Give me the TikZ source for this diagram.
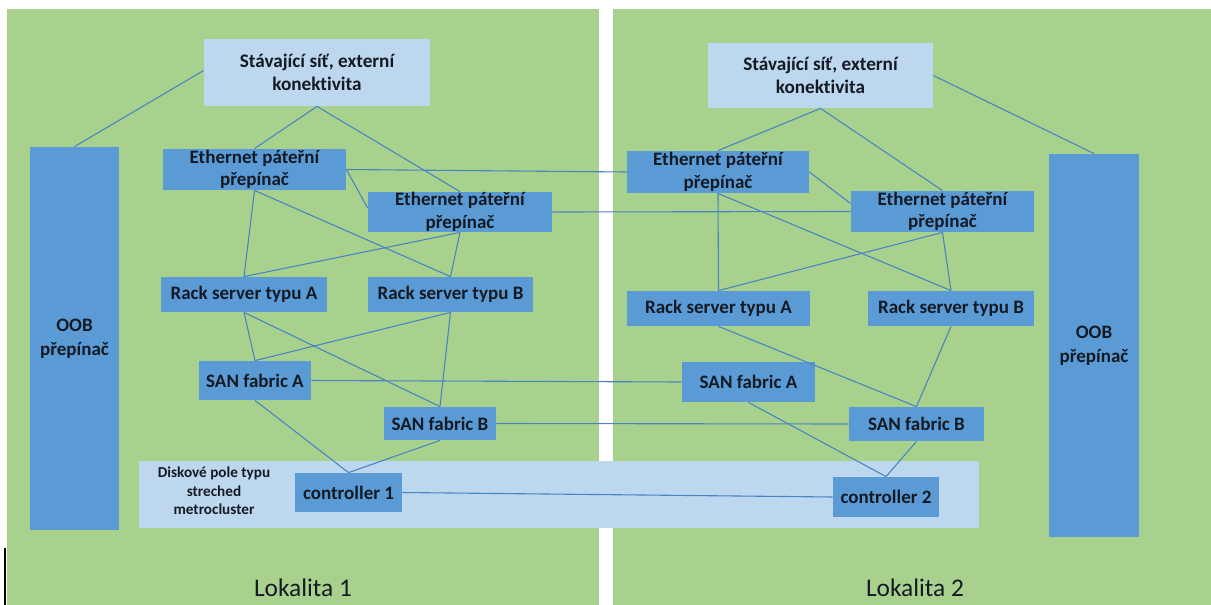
\documentclass[tikz,border=0pt]{standalone}
\usepackage{fontspec}
\setmainfont{Carlito}[Ligatures=NoCommon]
\definecolor{panelgreen}{HTML}{A9D18E}
\definecolor{boxblue}{HTML}{5B9BD5}
\definecolor{boxlight}{HTML}{BDD7EE}
\definecolor{linkblue}{HTML}{4A85C0}
\definecolor{txt}{HTML}{141A24}
\begin{document}
\begin{tikzpicture}[x=0.5pt,y=-0.5pt,
  darkbox/.style={fill=boxblue, draw=none, inner sep=0pt, align=center, text=txt,
    font=\fontsize{9.5}{11.2}\selectfont\bfseries},
  lightbox/.style={fill=boxlight, draw=none, inner sep=0pt, align=center, text=txt,
    font=\fontsize{9.6}{11.2}\selectfont\bfseries},
  smalltext/.style={inner sep=0pt, align=center, text=txt, font=\fontsize{7.6}{9.2}\selectfont\bfseries},
  sitetext/.style={inner sep=0pt, text=txt, font=\fontsize{12.7}{14}\selectfont},
  link/.style={draw=linkblue, line width=0.55pt},
]
\useasboundingbox (0,0) rectangle (1211,605);
\fill[white] (0,0) rectangle (1211,605);

% two sites
\fill[panelgreen] (7,9) rectangle (599,605);
\fill[panelgreen] (613,9) rectangle (1211,605);
\draw[black, line width=1pt] (5,548) -- (5,605);

% stretched disk array spanning both sites
\node[lightbox, minimum width=420pt, minimum height=33.5pt] (band) at (559,494.5) {};
\node[smalltext] (diskLbl) at (214,491) {Diskové pole typu\\streched\\metrocluster};

% ---- site 1 ----
\node[lightbox, minimum width=113pt, minimum height=33.5pt] (topL) at (317,72.5) {Stávající síť, externí\\konektivita};
\node[darkbox, minimum width=44.5pt, minimum height=191.5pt] (oobL) at (74.5,338.5) {OOB\\[1pt]přepínač};
\node[darkbox, minimum width=91.5pt, minimum height=20.5pt] (eth1L) at (254.5,169.5) {Ethernet páteřní\\přepínač};
\node[darkbox, minimum width=92pt, minimum height=20pt] (eth2L) at (460,212) {Ethernet páteřní\\přepínač};
\node[darkbox, minimum width=83pt, minimum height=17.5pt] (rackAL) at (244,294.5) {Rack server typu A};
\node[darkbox, minimum width=82.5pt, minimum height=17.5pt] (rackBL) at (450.5,294.5) {Rack server typu B};
\node[darkbox, minimum width=56pt, minimum height=19.5pt] (sanAL) at (255,380.5) {SAN fabric A};
\node[darkbox, minimum width=56pt, minimum height=16.5pt] (sanBL) at (440,423.5) {SAN fabric B};
\node[darkbox, minimum width=53.5pt, minimum height=19.5pt] (ctl1) at (348.5,492.5) {controller 1};
\node[sitetext] (site1) at (303,588) {Lokalita 1};

% ---- site 2 ----
\node[lightbox, minimum width=112.5pt, minimum height=32.5pt] (topR) at (820.5,75.5) {Stávající síť, externí\\konektivita};
\node[darkbox, minimum width=45pt, minimum height=191.5pt] (oobR) at (1094,345.5) {OOB\\[1pt]přepínač};
\node[darkbox, minimum width=91pt, minimum height=21pt] (eth1R) at (718,172) {Ethernet páteřní\\přepínač};
\node[darkbox, minimum width=91.5pt, minimum height=20.5pt] (eth2R) at (942.5,211.5) {Ethernet páteřní\\přepínač};
\node[darkbox, minimum width=91.5pt, minimum height=17.5pt] (rackAR) at (718.5,308.5) {Rack server typu A};
\node[darkbox, minimum width=83pt, minimum height=17.5pt] (rackBR) at (951,308.5) {Rack server typu B};
\node[darkbox, minimum width=66.5pt, minimum height=20pt] (sanAR) at (748.5,382) {SAN fabric A};
\node[darkbox, minimum width=67.5pt, minimum height=17pt] (sanBR) at (916.5,424) {SAN fabric B};
\node[darkbox, minimum width=53pt, minimum height=20pt] (ctl2) at (886,497) {controller 2};
\node[sitetext] (site2) at (915,588) {Lokalita 2};

% ---- links, site 1 ----
\draw[link] ([yshift=1pt]topL.west) -- (oobL.north);
\draw[link] (topL.south) -- (eth1L.north);
\draw[link] (topL.south) -- (eth2L.north);
\draw[link] (eth1L.east) -- ([yshift=2pt]eth2L.west);
\draw[link] (eth1L.south) -- (rackAL.north);
\draw[link] (eth1L.south) -- (rackBL.north);
\draw[link] (eth2L.south) -- (rackAL.north);
\draw[link] (eth2L.south) -- (rackBL.north);
\draw[link] (rackAL.south) -- (sanAL.north);
\draw[link] (rackAL.south) -- (sanBL.north);
\draw[link] (rackBL.south) -- (sanAL.north);
\draw[link] (rackBL.south) -- (sanBL.north);
\draw[link] (sanAL.south) -- (ctl1.north);
\draw[link] (sanBL.south) -- (ctl1.north);

% ---- links between the sites ----
\draw[link] (eth1L.east) -- (eth1R.west);
\draw[link] (eth2L.east) -- (eth2R.west);
\draw[link] (sanAL.east) -- (sanAR.west);
\draw[link] (sanBL.east) -- (sanBR.west);
\draw[link] (ctl1.east) -- (ctl2.west);

% ---- links, site 2 ----
\draw[link] (topR.east) -- (oobR.north);
\draw[link] (topR.south) -- (eth1R.north);
\draw[link] (topR.south) -- (eth2R.north);
\draw[link] (eth1R.east) -- ([yshift=4pt]eth2R.west);
\draw[link] (eth1R.south) -- (rackAR.north);
\draw[link] (eth1R.south) -- (rackBR.north);
\draw[link] (eth2R.south) -- (rackAR.north);
\draw[link] (eth2R.south) -- (rackBR.north);
\draw[link] (rackAR.south) -- (sanBR.north);
\draw[link] (rackBR.south) -- (sanBR.north);
\draw[link] (sanAR.south) -- (ctl2.north);
\draw[link] (sanBR.south) -- (ctl2.north);
\end{tikzpicture}
\end{document}
